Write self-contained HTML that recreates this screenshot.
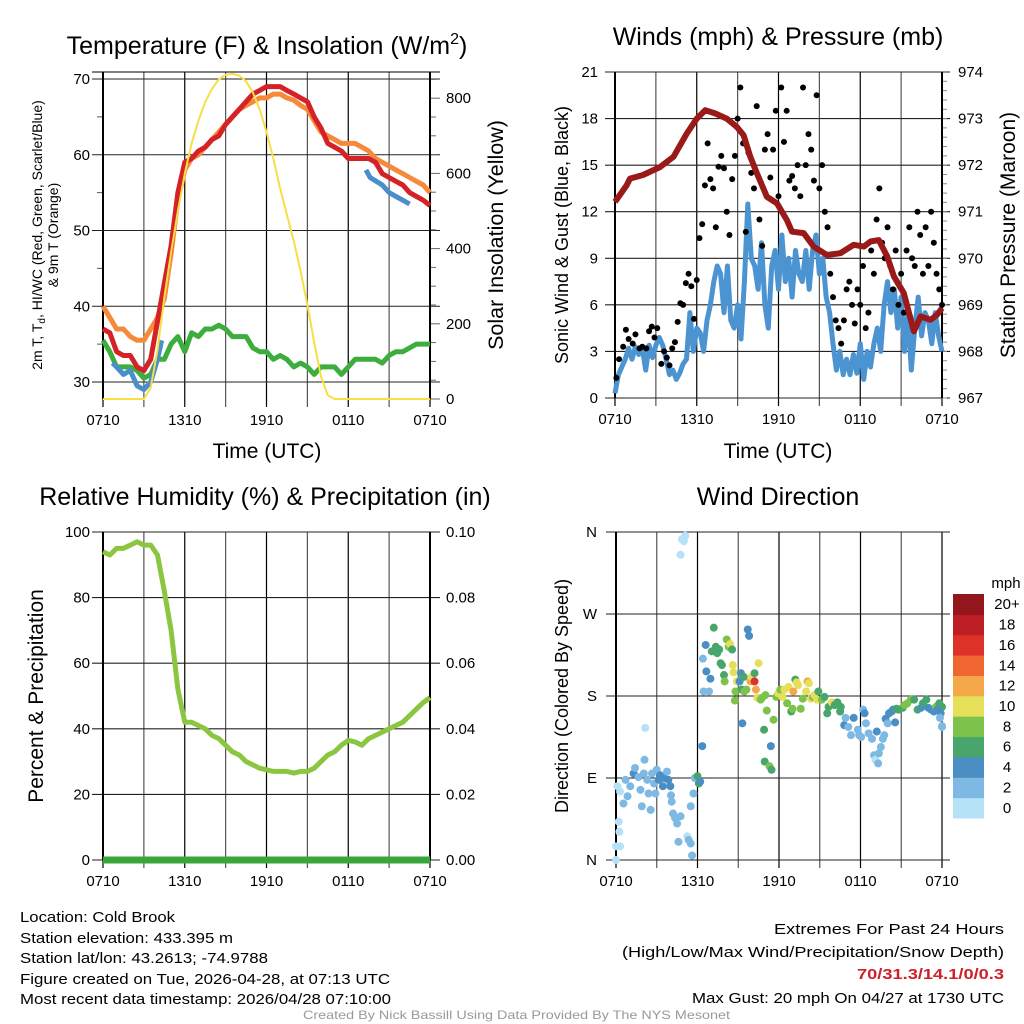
<!DOCTYPE html>
<html><head><meta charset="utf-8"><style>
html,body{margin:0;padding:0;background:#fff}
svg{display:block;font-family:"Liberation Sans",sans-serif}
</style></head><body>
<svg id="fig" width="1024" height="1024" viewBox="0 0 1024 1024">
<rect width="1024" height="1024" fill="#fff"/>
<g id="g"></g>
</svg>
<script>
// ---------- DATA ----------
const xTickLabels = ["0710","1310","1910","0110","0710"];
const hours = [0,0.5,1,1.5,2,2.5,3,3.5,4,4.5,5,5.5,6,6.5,7,7.5,8,8.5,9,9.5,10,10.5,11,11.5,12,12.5,13,13.5,14,14.5,15,15.5,16,16.5,17,17.5,18,18.5,19,19.5,20,20.5,21,21.5,22,22.5,23,23.5,24];
const temp2m = [37,36.5,34,33.5,33.5,32,31.5,33,38,43,48,55,59,59.5,60.5,61,62,62.5,64,65,66,67,68,68.5,69,69,69,68.5,68,67.5,67,65,63.5,61.5,61,60.5,59.5,59.5,59.5,59.5,59,57.5,57,56.5,56,55,54.5,54,53.3];
const temp9m = [40,38.5,37,37,36,35.5,35.5,37,38.5,41,47,54,58,59.5,60,61,62,63,64,65,66,66.5,67,67.5,67.5,68,68,67.5,67.2,66.5,66,64.5,63,62.5,62,61.5,61.5,61.5,61,60.5,59.5,59,58.5,58,57.5,57,56.5,56,55];
const dewpt = [35.5,34,32,32,32,31.5,30.5,31,33,33,35,36,34,36.5,36,37,37,37.5,37,36,36,36,34.5,34,34,33,33.5,33,32,32.5,32,31,32,32,32,31,32,33,33,33,33,32.5,33.5,34,34,34.5,35,35,35];
const wcHours = [0.7,1,1.5,2,2.5,3,3.5,4,4.3,null,19.3,19.6,20.5,21,21.5,22,22.5];
const wcVals  = [32.5,32,31,31.5,29.5,29,30,33,35.5,null,58,57,56,55,54.5,54,53.5];
const insol = [0,0,0,0,0,0,0,30,130,270,390,500,600,680,740,790,825,850,862,865,860,845,815,770,710,640,560,490,420,340,250,150,60,10,0,0,0,0,0,0,0,0,0,0,0,0,0,0,0];
const windHours = [0,0.25,0.5,0.75,1,1.25,1.5,1.75,2,2.25,2.5,2.75,3,3.25,3.5,3.75,4,4.25,4.5,4.75,5,5.25,5.5,5.75,6,6.25,6.5,6.75,7,7.25,7.5,7.75,8,8.25,8.5,8.75,9,9.25,9.5,9.75,10,10.25,10.5,10.75,11,11.25,11.5,11.75,12,12.25,12.5,12.75,13,13.25,13.5,13.75,14,14.25,14.5,14.75,15,15.25,15.5,15.75,16,16.25,16.5,16.75,17,17.25,17.5,17.75,18,18.25,18.5,18.75,19,19.25,19.5,19.75,20,20.25,20.5,20.75,21,21.25,21.5,21.75,22,22.25,22.5,22.75,23,23.25,23.5,23.75,24];
const windSpd = [0.3,1.5,2,2.5,3.2,2.5,3.3,2.8,3.2,1.8,3.4,2.6,3.4,3.9,3.4,2.5,1.5,1.8,1.2,1.6,2.2,2.5,5.5,3,4.5,4.2,3,5,6,7.5,8.5,8,5.5,8.5,5,4.5,6,3.8,7.5,12.5,9,8.5,7,10,6,4.5,8.5,9.5,7,10.5,7.5,9,6.5,9.5,8,7.5,9.5,7,9.5,10.5,8,9,6.5,5.5,3.5,1.8,3,1.5,2.5,1.5,2.8,1.6,3.5,1.2,3,2,3.5,4.5,3,6,7.5,5.5,7,4.5,6.5,3,5.5,1.8,4.5,6.5,4,5.5,5,3.5,5.5,4,3];
const presHours = [0,0.86,1.1,2.08,3.31,4.29,5.27,6.0,6.62,7.35,8.2,8.95,9.44,9.93,10.42,11.15,11.89,12.62,12.99,13.85,14.58,15.56,16.54,17.52,18.26,18.75,19.36,19.98,20.47,21.2,21.94,22.43,23.16,23.65,24];
const presVals = [971.21,971.57,971.71,971.79,971.96,972.18,972.68,973.0,973.18,973.11,973.0,972.82,972.64,972.18,971.82,971.32,971.18,970.82,970.57,970.54,970.25,970.07,970.11,970.29,970.25,970.36,970.39,970.04,969.61,969.25,968.43,968.75,968.68,968.79,968.93];
const gustHours = [0.1,0.3,0.6,0.8,1.0,1.3,1.5,1.8,2,2.3,2.5,2.7,2.9,3.1,3.4,3.6,3.8,4.0,4.2,4.4,4.6,4.8,5.0,5.2,5.4,5.6,5.8,6.0,6.2,6.4,6.6,6.8,7.0,7.2,7.4,7.6,7.8,8.0,8.2,8.4,8.6,8.8,9.0,9.2,9.4,9.6,9.8,10.0,10.2,10.4,10.6,10.8,11.0,11.2,11.4,11.6,11.8,12.0,12.2,12.4,12.6,12.8,13.0,13.2,13.4,13.6,13.8,14.0,14.2,14.4,14.6,14.8,15.0,15.2,15.4,15.6,15.8,16.0,16.2,16.4,16.6,16.8,17.0,17.2,17.4,17.6,17.8,18.0,18.2,18.4,18.6,18.8,19.0,19.2,19.4,19.6,19.8,20.0,20.2,20.4,20.6,20.8,21.0,21.2,21.4,21.6,21.8,22.0,22.2,22.4,22.6,22.8,23.0,23.2,23.4,23.6,23.8,24];
const gustVals = [1.3,2.5,3.3,4.4,3.8,3.5,4.1,3.2,3.3,3.2,4.3,4.6,3.9,4.5,2.2,3.0,2.6,2.1,3.2,3.6,4.9,6.1,6.0,7.4,8.0,7.2,5.1,7.6,10.3,11.2,13.7,16.4,14.1,13.5,11.0,14.9,15.6,14.8,12.0,10.5,14.1,15.6,18.0,20.0,16.4,10.7,15.8,14.5,13.5,18.8,11.5,9.8,16.0,17.0,14.2,16.0,18.5,13.0,20.0,16.5,18.5,14.0,14.3,13.5,15.0,13.0,20.0,15.0,17.0,16.0,14.0,19.5,13.5,15.0,12.0,11.0,8.0,6.5,5.0,4.5,3.5,5.0,7.0,7.5,6.0,4.8,7.0,6.0,8.5,4.5,5.5,9.5,8.0,11.5,13.5,10.0,9.0,11.0,8.5,7.0,9.5,6.0,8.0,5.5,9.5,11.0,9.0,8.5,12.0,10.5,8.0,11.0,8.5,12.0,10.0,8.0,7.0,6.0];
const rh = [94,93,95,95,96,97,96,96,93,82,70,52,42,42,41,40,38,37,35,33,32,30,29,28,27.5,27,27,27,26.5,27,27,28,30,32,33,35,36.5,36,35,37,38,39,40,41,42,44,46,48,49.5];
const dirHours = [0.0,0.0,0.3,0.25,0.2,0.1,0.3,0.55,0.85,0.7,1.05,1.3,1.4,1.65,1.8,1.9,2.05,2.1,2.15,2.3,2.4,2.55,2.65,2.8,2.9,3.0,3.15,3.25,3.45,3.55,3.75,3.85,4.0,4.05,4.1,4.2,4.35,4.5,4.6,4.75,4.75,4.85,5.0,5.1,5.25,5.35,5.5,5.6,5.5,5.7,5.8,6.0,6.1,6.2,6.35,6.4,6.45,6.6,6.65,6.85,6.95,7.05,7.2,7.35,7.45,7.6,7.7,7.8,7.95,8.0,8.15,8.3,8.4,8.55,8.6,8.65,8.8,8.9,8.75,9.1,9.2,9.25,9.3,9.4,9.45,9.6,9.7,9.8,9.9,10.0,10.2,10.2,10.3,10.4,10.5,10.65,10.75,10.9,10.95,11.0,11.1,11.3,11.4,11.45,11.6,11.8,11.95,12.1,12.25,12.4,12.6,12.7,12.9,13.0,13.05,13.2,13.3,13.4,13.6,13.75,14.0,14.1,14.2,14.35,14.5,14.6,14.8,14.9,15.15,15.35,15.55,15.65,15.9,16.1,16.3,16.5,16.55,16.8,16.9,17.1,17.3,17.5,17.8,17.9,18.05,18.2,18.3,18.4,18.6,18.85,19.0,19.1,19.2,19.3,19.35,19.5,19.65,19.75,19.85,20.0,20.1,20.3,20.4,20.55,20.65,20.8,21.1,21.25,21.45,21.7,21.95,22.2,22.45,22.6,22.85,23.0,23.2,23.4,23.55,23.8,24.0,23.65,23.9,23.85,24.0,24.0];
const dirDeg = [0,15,15,31,42,81,75,62,70,88,81,95,101,91,77,59,95,110,145,88,73,55,95,84,73,99,88,93,81,90,97,88,81,71,64,51,46,40,20,48,335,352,350,356,26,22,18,5,59,73,90,92,84,86,125,221,185,236,207,185,199,229,255,234,227,231,216,214,203,196,242,234,237,231,214,206,185,196,175,196,205,187,150,201,185,187,253,246,196,201,205,196,187,178,216,176,178,143,108,181,164,103,125,99,154,179,183,187,179,187,172,190,163,166,185,198,195,192,166,177,185,196,194,177,179,181,176,185,176,179,161,168,173,170,173,163,168,148,156,146,137,156,143,137,135,165,161,150,139,133,115,110,141,106,117,124,133,137,155,150,161,163,165,151,166,165,167,170,172,176,176,165,167,172,176,167,165,163,168,172,168,165,161,156,146,147];
const dirSpd = [0,1,0,1,1,1,0,2,2,2,2,4,2,2,2,2,2,2,0,2,2,2,2,2,2,2,4,4,4,4,2,4,4,2,2,2,2,2,2,2,0,1,1,1,1,2,2,2,2,2,2,6,6,4,4,2,2,4,4,2,4,6,6,6,6,6,6,6,6,8,8,8,10,6,10,10,8,10,8,4,4,6,4,6,8,8,4,4,12,10,6,16,12,10,10,8,8,6,6,8,8,8,4,6,8,8,10,8,10,10,8,10,6,8,12,6,10,10,8,8,10,12,10,10,8,10,10,6,8,6,6,6,10,6,6,6,6,4,2,2,2,4,2,2,2,2,4,2,2,2,2,0,4,2,2,2,2,2,4,2,4,4,4,4,6,6,6,8,8,8,6,6,4,6,6,4,4,4,8,6,6,4,4,2,2,2];
const tempTicks = [30,40,50,60,70];
const insolTicks = [0,200,400,600,800];
const windTicks = [0,3,6,9,12,15,18,21];
const presTicks = [967,968,969,970,971,972,973,974];
const rhTicks = [0,20,40,60,80,100];
const precipTicks = ["0.00","0.02","0.04","0.06","0.08","0.10"];
const dirTicks = [0,90,180,270,360];
const dirTickLabels = ["N","E","S","W","N"];
const legendLabels = ["0","2","4","6","8","10","12","14","16","18","20+"];
const legendColors = ["#b5e2f7","#7db9e2","#4a8ec4","#48a66c","#7dc24b","#e5df59","#f5a84a","#ef6630","#dd3228","#bd1d25","#92161b"];

// ---------- HELPERS ----------
const NS="http://www.w3.org/2000/svg";
const G=document.getElementById('g');
function el(tag,attrs,parent){const e=document.createElementNS(NS,tag);for(const k in attrs)e.setAttribute(k,attrs[k]);(parent||G).appendChild(e);return e;}
function txt(s,x,y,size,anchor,parent,extra){const t=el('text',Object.assign({x:x,y:y,'font-size':size,'text-anchor':anchor||'middle',fill:'#000'},extra||{}),parent);t.textContent=s;return t;}
function pathFrom(xs,ys,sx,sy){let d='',pen=false;const n=Math.min(xs.length,ys.length);for(let i=0;i<n;i++){if(xs[i]===null||ys[i]===null||ys[i]===undefined){pen=false;continue;}d+=(pen?'L':'M')+sx(xs[i]).toFixed(1)+' '+sy(ys[i]).toFixed(1);pen=true;}return d;}

function panel(name,xl,xr,yt,yb){
  const g=el('g',{});
  
  
  const sx=h=>xl+(xr-xl)*h/24;
  for(let i=0;i<=8;i++){const x=sx(i*3);el('line',{x1:x,x2:x,y1:yt,y2:yb+8,stroke:i%2?'#555':'#000','stroke-width':1.2},g);}
  xTickLabels.forEach((s,i)=>{const t=txt(s,sx(i*6),yb+26,15,'middle',g);});
  return {g,sx};
}

// ---------- PANEL 1: Temperature ----------
{
  const xl=103,xr=430,yt=72,yb=399;
  const {g,sx}=panel('temperature-panel',xl,xr,yt,yb);
  const sy=T=>382-(T-30)*7.575;
  const si=I=>399-I*75.2/200;
  tempTicks.forEach(v=>{el('line',{x1:92,x2:440,y1:sy(v),y2:sy(v),stroke:'#222','stroke-width':1.1},g);const t=txt(v,90,sy(v)+5,15,'end',g);});
  [35,45,55,65].forEach(v=>el('line',{x1:97,x2:103,y1:sy(v),y2:sy(v),stroke:'#555'},g));
  for(let v=0;v<=850;v+=50){const y=si(v);el('line',{x1:430,x2:v%200===0?440:436,y1:y,y2:y,stroke:'#666'},g);}
  insolTicks.forEach(v=>{const t=txt(v,446,si(v)+5,15,'start',g);});
  el('line',{x1:92,x2:440,y1:72,y2:72,stroke:'#000'},g);
  el('line',{x1:103,x2:103,y1:72,y2:399,stroke:'#000','stroke-width':2},g);
  el('line',{x1:430,x2:430,y1:72,y2:399,stroke:'#000','stroke-width':2},g);
  const a=el('path',{d:pathFrom(hours,dewpt,sx,sy),fill:'none',stroke:'#3dad3d','stroke-width':5,'stroke-linejoin':'round'},g);
  const b=el('path',{d:pathFrom(hours,temp9m,sx,sy),fill:'none',stroke:'#f58b3a','stroke-width':5,'stroke-linejoin':'round'},g);
  const c=el('path',{d:pathFrom(wcHours,wcVals,sx,sy),fill:'none',stroke:'#4a8fcb','stroke-width':5,'stroke-linejoin':'round'},g);
  const d=el('path',{d:pathFrom(hours,temp2m,sx,sy),fill:'none',stroke:'#d42226','stroke-width':5,'stroke-linejoin':'round'},g);
  const e=el('path',{d:pathFrom(hours,insol,sx,si),fill:'none',stroke:'#f7df45','stroke-width':2},g);
  const t1=el('text',{x:267,y:54,'font-size':25,'text-anchor':'middle'},g);t1.innerHTML='Temperature (F) &amp; Insolation (W/m<tspan dy="-10" font-size="16">2</tspan><tspan dy="10">)</tspan>';
  const xa=txt('Time (UTC)',267,458,21,'middle',g);
  const ya=el('text',{transform:'translate(42,235) rotate(-90)','font-size':14,'text-anchor':'middle'},g);ya.innerHTML='2m T, T<tspan dy="3" font-size="10">d</tspan><tspan dy="-3">, HI/WC (Red, Green, Scarlet/Blue)</tspan>';
  const yb2=el('text',{transform:'translate(58,235) rotate(-90)','font-size':14,'text-anchor':'middle'},g);yb2.textContent='& 9m T (Orange)';
  const yr=el('text',{transform:'translate(503,235) rotate(-90)','font-size':21.5,'text-anchor':'middle'},g);yr.textContent='Solar Insolation (Yellow)';
}

// ---------- PANEL 2: Winds ----------
{
  const xl=615,xr=942,yt=72,yb=398;
  const {g,sx}=panel('winds-panel',xl,xr,yt,yb);
  const sy=v=>yb-(yb-yt)*v/21;
  const sp=p=>yb-(yb-yt)*(p-967)/7;
  windTicks.forEach(v=>{el('line',{x1:605,x2:950,y1:sy(v),y2:sy(v),stroke:'#222','stroke-width':1.1},g);const t=txt(v,598,sy(v)+5,15,'end',g);});
  for(let v=967;v<=974;v+=0.2){el('line',{x1:942,x2:947,y1:sp(v),y2:sp(v),stroke:'#888'},g);}
  presTicks.forEach(v=>{const t=txt(v,958,sp(v)+5,15,'start',g);});
  el('line',{x1:615,x2:615,y1:72,y2:398,stroke:'#000','stroke-width':2},g);
  el('line',{x1:942,x2:942,y1:72,y2:398,stroke:'#000','stroke-width':2},g);
  const w=el('path',{d:pathFrom(windHours,windSpd,sx,sy),fill:'none',stroke:'#4c93d2','stroke-width':5,'stroke-linejoin':'round'},g);
  gustHours.forEach((h,i)=>{if(gustVals[i]===undefined)return;const c=el('circle',{cx:sx(h),cy:sy(gustVals[i]),r:3,fill:'#000'},g);
    
    });
  const p=el('path',{d:pathFrom(presHours,presVals,sx,sp),fill:'none',stroke:'#9a1a1a','stroke-width':6,'stroke-linejoin':'round'},g);
  const t1=txt('Winds (mph) & Pressure (mb)',778,45,25,'middle',g);
  const xa=txt('Time (UTC)',778,458,21,'middle',g);
  const ya=el('text',{transform:'translate(568,235) rotate(-90)','font-size':18,'text-anchor':'middle'},g);ya.textContent='Sonic Wind & Gust (Blue, Black)';
  const yr=el('text',{transform:'translate(1015,235) rotate(-90)','font-size':21,'text-anchor':'middle'},g);yr.textContent='Station Pressure (Maroon)';
}

// ---------- PANEL 3: RH ----------
{
  const xl=103,xr=430,yt=532,yb=860;
  const {g,sx}=panel('humidity-panel',xl,xr,yt,yb);
  const sy=v=>yb-(yb-yt)*v/100;
  rhTicks.forEach((v,i)=>{el('line',{x1:92,x2:440,y1:sy(v),y2:sy(v),stroke:'#222','stroke-width':1.1},g);const t=txt(v,90,sy(v)+5,15,'end',g);
    const r=txt(precipTicks[i],446,sy(v)+5,15,'start',g);});
  el('line',{x1:103,x2:103,y1:yt,y2:yb,stroke:'#000','stroke-width':2},g);
  el('line',{x1:430,x2:430,y1:yt,y2:yb,stroke:'#000','stroke-width':2},g);
  const r=el('path',{d:pathFrom(hours,rh,sx,sy),fill:'none',stroke:'#8cc641','stroke-width':5,'stroke-linejoin':'round'},g);
  const pr=el('line',{x1:xl,x2:xr,y1:yb,y2:yb,stroke:'#3aa63a','stroke-width':7},g);
  const t1=txt('Relative Humidity (%) & Precipitation (in)',265,505,25,'middle',g);
  const ya=el('text',{transform:'translate(43,696) rotate(-90)','font-size':21,'text-anchor':'middle'},g);ya.textContent='Percent & Precipitation';
}

// ---------- PANEL 4: Wind Direction ----------
{
  const xl=616,xr=942,yt=532,yb=860;
  const {g,sx}=panel('wind-direction-panel',xl,xr,yt,yb);
  const sy=d=>yb-(yb-yt)*d/360;
  dirTicks.forEach((v,i)=>{el('line',{x1:606,x2:950,y1:sy(v),y2:sy(v),stroke:'#222','stroke-width':1.1},g);const t=txt(dirTickLabels[i],597,sy(v)+5,15,'end',g);});
  el('line',{x1:616,x2:616,y1:yt,y2:yb,stroke:'#000','stroke-width':2},g);
  const n=Math.min(dirHours.length,dirDeg.length,dirSpd.length);
  for(let i=0;i<n;i++){const bin=Math.min(10,Math.floor(dirSpd[i]/2));const c=el('circle',{cx:sx(dirHours[i]),cy:sy(dirDeg[i]),r:4,fill:legendColors[bin]||legendColors[1]},g);
    
    }
  const t1=txt('Wind Direction',778,505,25,'middle',g);
  const ya=el('text',{transform:'translate(568,696) rotate(-90)','font-size':18,'text-anchor':'middle'},g);ya.textContent='Direction (Colored By Speed)';
  const lg=el('g',{},g);
  const bh=(818-594)/11;
  legendColors.forEach((c,i)=>{const y=818-(i+1)*bh;const r=el('rect',{x:953,y:y,width:31,height:bh+0.5,fill:c},lg);
    const t=txt(legendLabels[i],1007,y+bh/2+5,15,'middle',lg);});
  const u=txt('mph',1006,588,15,'middle',lg);
}

// ---------- FOOTER ----------
{
  const f=el('g',{});
  const left=[["Location: Cold Brook",922,155],["Station elevation: 433.395 m",943,213],["Station lat/lon: 43.2613; -74.9788",963,248],["Figure created on Tue, 2026-04-28, at 07:13 UTC",984,370],["Most recent data timestamp: 2026/04/28 07:10:00",1004,371]];
  left.forEach(l=>{const t=txt(l[0],20,l[1],15,'start',f,{textLength:l[2],lengthAdjust:'spacingAndGlyphs'});});
  const right=[["Extremes For Past 24 Hours",934,230,'#000','normal'],["(High/Low/Max Wind/Precipitation/Snow Depth)",957,382,'#000','normal'],["70/31.3/14.1/0/0.3",979,147,'#d0202a','bold'],["Max Gust: 20 mph On 04/27 at 1730 UTC",1003,312,'#000','normal']];
  right.forEach(l=>{const t=txt(l[0],1004-l[2],l[1],15,'start',f,{textLength:l[2],lengthAdjust:'spacingAndGlyphs',fill:l[3],'font-weight':l[4]});});
  const cr=txt('Created By Nick Bassill Using Data Provided By The NYS Mesonet',303,1019,12,'start',f,{textLength:427,lengthAdjust:'spacingAndGlyphs',fill:'#999'});
}
</script>
</body></html>
